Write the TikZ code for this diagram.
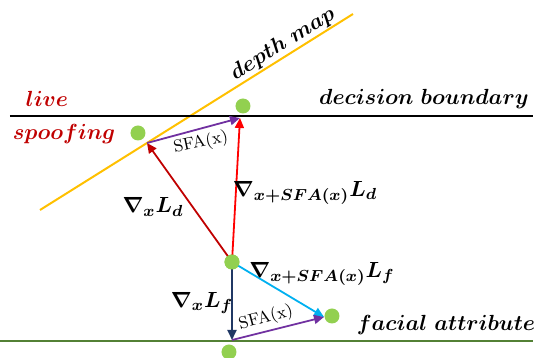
\documentclass[tikz,border=0pt]{standalone}
\usepackage{amsmath,bm}
\usetikzlibrary{arrows.meta}
\definecolor{dotgreen}{HTML}{92D050}
\definecolor{ylw}{HTML}{FFC000}
\definecolor{dred}{HTML}{C00000}
\definecolor{pur}{HTML}{7030A0}
\definecolor{dblue}{HTML}{203864}
\definecolor{cyn}{HTML}{00B0F0}
\definecolor{lgreen}{HTML}{538135}
\tikzset{
  dot/.style={circle,fill=dotgreen,inner sep=0pt,minimum size=7.5pt},
  vec/.style={line width=0.9pt,-{Triangle[length=5pt,width=4.5pt]}},
  lbl/.style={inner sep=0pt,font=\fontsize{11}{13}\selectfont},
  sfa/.style={inner sep=0pt,font=\fontsize{8.5}{9}\selectfont},
}
\begin{document}
\begin{tikzpicture}[x=0.5pt,y=-0.5pt]
\useasboundingbox (0,0) rectangle (538,358);
% lines
\coordinate (yl1) at (40,210); \coordinate (yl2) at (353,14);
\coordinate (bl1) at (10,116); \coordinate (bl2) at (533,116);
\coordinate (gl1) at (0,341); \coordinate (gl2) at (533,341);
\draw[ylw,line width=1pt] (yl1) -- (yl2);
\draw[black,line width=1.1pt] (bl1) -- (bl2);
\draw[lgreen,line width=1.1pt] (gl1) -- (gl2);
% dots
\node[dot] (dtop) at (243,106) {};
\node[dot] (dsp) at (138,133) {};
\node[dot] (dmid) at (232,262) {};
\node[dot] (drt) at (332,316) {};
\node[dot] (dbot) at (229,352) {};
% arrow end points
\coordinate (P) at (147,143);
\coordinate (Q) at (240,118);
\coordinate (B) at (232,340);
\coordinate (R) at (324,317);
% arrows
\draw[vec,dred] (dmid.center) -- (P);
\draw[vec,red] (dmid.center) -- (Q);
\draw[vec,pur] (P) -- (Q);
\draw[vec,dblue] (dmid.center) -- (B);
\draw[vec,cyn] (dmid.center) -- (R);
\draw[vec,pur] (B) -- (R);
\node[dot] at (dmid) {};
% labels
\node[lbl,text=dred] (live) at (47,99) {$\bm{live}$};
\node[lbl,text=dred] (spoof) at (64,134) {$\bm{spoofing}$};
\node[lbl] (dec) at (424,99) {$\bm{decision\ boundary}$};
\node[lbl,rotate=32] (dep) at (283,44) {$\bm{depth\ map}$};
\node[lbl] (fa) at (446,325) {$\bm{facial\ attribute}$};
\node[lbl] (gxd) at (153,207) {$\bm{\nabla_x L_d}$};
\node[lbl] (gsd) at (305,193) {$\bm{\nabla_{x+SFA(x)} L_d}$};
\node[lbl] (gsf) at (322,274) {$\bm{\nabla_{x+SFA(x)} L_f}$};
\node[lbl] (gxf) at (202,303) {$\bm{\nabla_x L_f}$};
\node[sfa,rotate=12] (s1) at (201,143) {SFA(x)};
\node[sfa,rotate=15] (s2) at (266,318) {SFA(x)};
\end{tikzpicture}
\end{document}
